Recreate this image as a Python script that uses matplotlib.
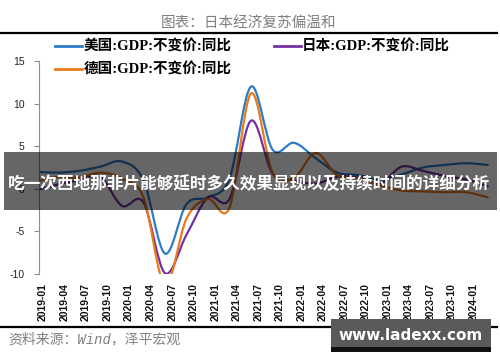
import matplotlib
matplotlib.use('Agg')
import matplotlib.pyplot as plt
from matplotlib.path import Path
from matplotlib.patches import PathPatch, Rectangle
from matplotlib.lines import Line2D
import numpy as np

# ---------------- data ----------------
quarters = ['2018Q4', '2019Q1', '2019Q2', '2019Q3', '2019Q4',
            '2020Q1', '2020Q2', '2020Q3', '2020Q4',
            '2021Q1', '2021Q2', '2021Q3', '2021Q4',
            '2022Q1', '2022Q2', '2022Q3', '2022Q4',
            '2023Q1', '2023Q2', '2023Q3', '2023Q4', '2024Q1']
us = [2.0, 1.9, 2.1, 2.6, 3.2, 1.0, -7.6, -1.8, -1.0, 1.2, 12.0, 4.6,
      5.4, 3.6, 1.9, 1.6, 1.1, 1.7, 2.5, 2.8, 3.0, 2.8]
japan = [-0.2, 0.5, 1.0, 1.4, -2.0, -1.6, -9.9, -5.4, -1.0, -1.2, 8.0, 1.8,
         1.0, 0.6, 1.4, 1.3, 0.6, 2.6, 2.1, 1.5, 1.1, 0.3]
germany = [0.8, 1.4, 1.3, 1.9, 1.2, -1.0, -11.3, -3.5, -1.2, -2.2, 11.2, 1.9,
           1.3, 4.2, 1.6, 1.2, 0.4, -0.2, -0.3, -0.4, -0.4, -1.0]
series_names = ['美国:GDP:不变价:同比', '日本:GDP:不变价:同比', '德国:GDP:不变价:同比']
tick_labels = ['2019-01', '2019-04', '2019-07', '2019-10',
               '2020-01', '2020-04', '2020-07', '2020-10',
               '2021-01', '2021-04', '2021-07', '2021-10',
               '2022-01', '2022-04', '2022-07', '2022-10',
               '2023-01', '2023-04', '2023-07', '2023-10', '2024-01']
y_ticks = [-10, -5, 0, 5, 10, 15]

colors = ['#2E7CC4', '#7332A4', '#EA7A1C']


def quarter_to_month(q):
    y, n = int(q[:4]), int(q[-1])
    return (y - 2019) * 12 + n * 3 - 1


def label_to_month(s):
    y, m = int(s[:4]), int(s[5:])
    return (y - 2019) * 12 + m - 1


def smooth_path(x, y):
    x = np.asarray(x, float)
    y = np.asarray(y, float)
    n = len(x)
    verts = [(x[0], y[0])]
    codes = [Path.MOVETO]
    for i in range(n - 1):
        x0, y0 = (x[i - 1], y[i - 1]) if i > 0 else (x[i], y[i])
        x3, y3 = (x[i + 2], y[i + 2]) if i + 2 < n else (x[i + 1], y[i + 1])
        c1 = (x[i] + (x[i + 1] - x0) / 6, y[i] + (y[i + 1] - y0) / 6)
        c2 = (x[i + 1] - (x3 - x[i]) / 6, y[i + 1] - (y3 - y[i]) / 6)
        verts += [c1, c2, (x[i + 1], y[i + 1])]
        codes += [Path.CURVE4] * 3
    return Path(verts, codes)


W, H = 500, 362
fig = plt.figure(figsize=(W / 100, H / 100), dpi=100)
fig.patch.set_facecolor('white')

ax = fig.add_axes([39.3 / W, (H - 274) / H, (492 - 39.3) / W, (274 - 61) / H])
xs = [quarter_to_month(q) for q in quarters]
for vals, c in zip([us, japan, germany], colors):
    ax.add_patch(PathPatch(smooth_path(xs, vals), fill=False, edgecolor=c,
                           lw=1.6, joinstyle='round', capstyle='round'))

ax.set_xlim(-0.52, 62.6)
ax.set_ylim(-10, 15)
ax.set_yticks(y_ticks)
ax.set_yticklabels([str(v) for v in y_ticks], fontsize=7.5,
                   family='Liberation Sans', color='#222222')
ax.set_xticks([label_to_month(s) for s in tick_labels])
ax.set_xticklabels(tick_labels, rotation=90, fontsize=7.5,
                   family='Liberation Sans', color='#111111', fontweight='bold')
ax.tick_params(axis='x', length=0, pad=6.5)
ax.tick_params(axis='y', length=3.5, width=0.8, color='#8c8c8c', pad=7)
for s in ['top', 'right', 'bottom']:
    ax.spines[s].set_visible(False)
ax.spines['left'].set_color('#8c8c8c')
ax.spines['left'].set_linewidth(0.8)
ax.patch.set_alpha(0)

# legend
handles = [Line2D([], [], color=c, lw=2) for c in colors]
order = [0, 2, 1]
leg = ax.legend([handles[i] for i in order], [series_names[i] for i in order],
                ncol=2, loc='upper left', bbox_to_anchor=(55 / W, 1 - 39.5 / H),
                bbox_transform=fig.transFigure, frameon=False, borderpad=0,
                borderaxespad=0, handlelength=1.85, handletextpad=0.1,
                columnspacing=2.9, labelspacing=0.63,
                prop={'family': ['Liberation Serif', 'Noto Sans CJK SC'],
                      'weight': 'bold', 'size': 10.5})

# title & rules
fig.text(249 / W, 1 - 22.5 / H, '图表：日本经济复苏偏温和', ha='center', va='center',
         fontsize=10.5, color='#7f7f7f', family=['Noto Sans CJK SC', 'DejaVu Sans'])
fig.add_artist(Line2D([0, 497 / W], [1 - 33 / H] * 2, color='black', lw=1.6,
                      transform=fig.transFigure))
fig.add_artist(Line2D([0, 497 / W], [1 - 327 / H] * 2, color='black', lw=1.6,
                      transform=fig.transFigure))
fig.text(8 / W, 1 - 339 / H, '资料来源：Wind，泽平宏观', ha='left', va='center',
         fontsize=10, color='#808080', style='italic',
         family=['Liberation Mono', 'Noto Sans CJK SC'])

# watermark banner
fig.add_artist(Rectangle((4 / W, 1 - 210 / H), 493 / W, 58 / H, transform=fig.transFigure,
                         facecolor='black', alpha=0.6, edgecolor='none', zorder=10))
fig.text(249 / W, 1 - 184 / H, '吃一次西地那非片能够延时多久效果显现以及持续时间的详细分析',
         ha='center', va='center', fontsize=12, color='white', fontweight='bold',
         family=['Noto Sans CJK SC', 'DejaVu Sans'], zorder=11)

# watermark box
fig.add_artist(Rectangle((331 / W, 1 - 352 / H), 160 / W, 33 / H, transform=fig.transFigure,
                         facecolor='#111111', edgecolor='none', zorder=10))
fig.add_artist(Rectangle((331 / W, 1 - 347 / H), 160 / W, 28 / H, transform=fig.transFigure,
                         facecolor='#5a5a5a', edgecolor='none', zorder=10))
fig.text(411 / W, 1 - 335 / H, 'www.ladexx.com', ha='center', va='center',
         fontsize=11, color='white', fontweight='bold', family='DejaVu Sans', zorder=11)

fig.savefig('out.png', dpi=100)
